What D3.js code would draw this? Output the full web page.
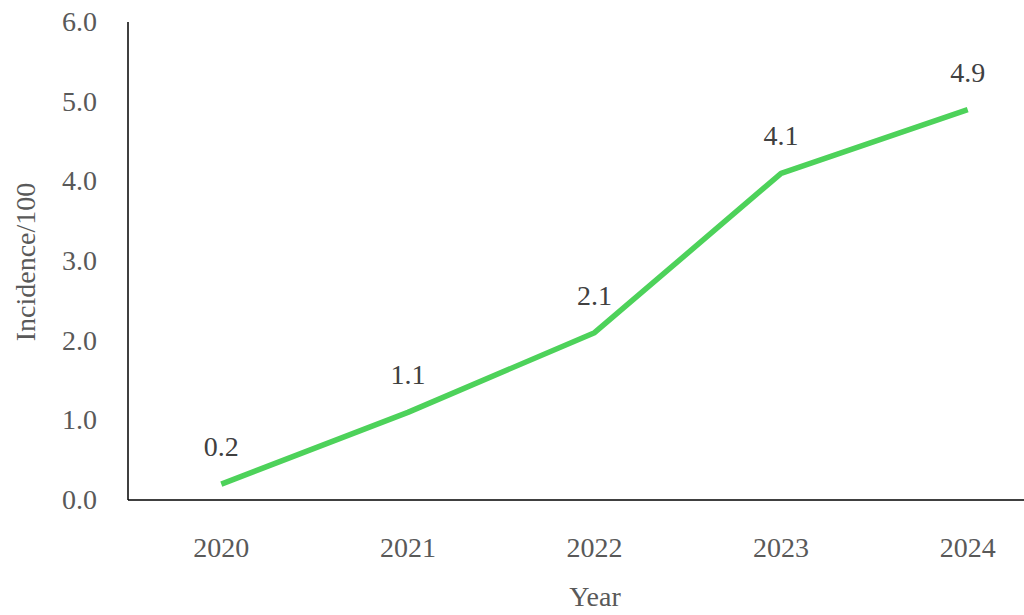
<!DOCTYPE html>
<html><head><meta charset="utf-8">
<script src="https://cdn.jsdelivr.net/npm/d3@7"></script>
<style>body{margin:0;background:#fff}text{font-family:"Liberation Serif","Times New Roman",serif;fill:#595959}</style>
</head><body><svg id="c" width="1024" height="615"></svg>
<script>
const years = ["2020","2021","2022","2023","2024"];
const incidence = [0.2,1.1,2.1,4.1,4.9];
const yTicks = [0,1,2,3,4,5,6];

const svg = d3.select("#c");
const x = d3.scaleBand().domain(years).range([128,1061]);
const y = d3.scaleLinear().domain([0,6]).range([500,22]);
const cx = d => x(d) + x.bandwidth()/2;

svg.append("line").attr("x1",128).attr("x2",128).attr("y1",y(6)).attr("y2",y(0)).attr("stroke","#000").attr("stroke-width",1.5);
svg.append("line").attr("x1",128).attr("x2",1061).attr("y1",y(0)).attr("y2",y(0)).attr("stroke","#000").attr("stroke-width",1.5);

svg.selectAll(".yt").data(yTicks).join("text").attr("x",97).attr("y",d=>y(d)+9)
  .attr("text-anchor","end").attr("font-size",28).text(d=>d.toFixed(1));
svg.selectAll(".xt").data(years).join("text").attr("x",d=>cx(d)).attr("y",557)
  .attr("text-anchor","middle").attr("font-size",28).text(d=>d);

svg.append("path").datum(incidence.map((v,i)=>[cx(years[i]),y(v)]))
  .attr("d",d3.line()).attr("fill","none").attr("stroke","#4dd25a").attr("stroke-width",5.5).attr("stroke-linejoin","round");

svg.selectAll(".lb").data(incidence).join("text").attr("x",(d,i)=>cx(years[i])).attr("y",d=>y(d)-28)
  .attr("text-anchor","middle").attr("font-size",28).attr("fill","#404040").style("fill","#404040").text(d=>d.toFixed(1));

svg.append("text").attr("x",595).attr("y",606).attr("text-anchor","middle").attr("font-size",28).text("Year");
svg.append("text").attr("transform","translate(35,262) rotate(-90)").attr("text-anchor","middle").attr("font-size",28).text("Incidence/100");
</script></body></html>
